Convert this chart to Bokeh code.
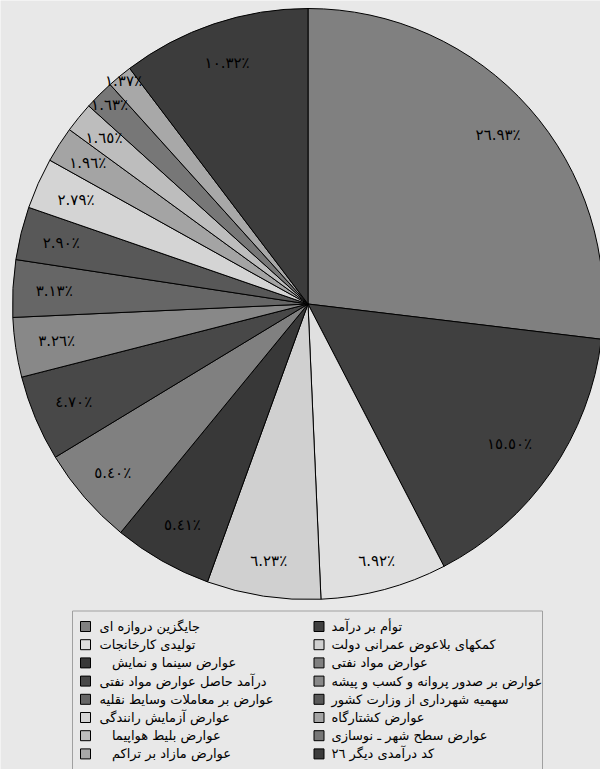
import math
from bokeh.plotting import figure
from bokeh.models import Range1d, ColumnDataSource
from bokeh.core.properties import value
from bokeh.embed import file_html
from bokeh.resources import INLINE

# ---------------- data ----------------
categories = [
    "جایگزین دروازه ای",
    "توأم بر درآمد",
    "تولیدی کارخانجات",
    "کمکهای بلاعوض عمرانی دولت",
    "عوارض سینما و نمایش",
    "عوارض مواد نفتی",
    "درآمد حاصل عوارض مواد نفتی",
    "عوارض بر صدور پروانه و کسب و پیشه",
    "عوارض بر معاملات وسایط نقلیه",
    "سهمیه شهرداری از وزارت کشور",
    "عوارض آزمایش رانندگی",
    "عوارض کشتارگاه",
    "عوارض بلیط هواپیما",
    "عوارض سطح شهر ـ نوسازی",
    "عوارض مازاد بر تراکم",
    "کد درآمدی دیگر ٢٦",
]
shares = [26.93, 15.50, 6.92, 6.23, 5.41, 5.40, 4.70, 3.26,
          3.13, 2.90, 2.79, 1.96, 1.65, 1.63, 1.37, 10.32]
colors = ["#808080", "#404040", "#e0e0e0", "#d0d0d0", "#383838", "#808080",
          "#484848", "#888888", "#666666", "#585858", "#d4d4d4", "#a4a4a4",
          "#bdbdbd", "#777777", "#a8a8a8", "#3c3c3c"]

# ---------------- layout / style ----------------
W, H = 600, 769
BG = "#e8e8e8"
cx, cy, R = 307.5, -303.5, 295.5
FONT = "DejaVu Sans"
label_r = {1: 0.83, 2: 0.90, 3: 0.88, 5: 0.875, 11: 0.885, 12: 0.89,
           13: 0.95, 14: 0.98}

AR_DIGITS = str.maketrans("0123456789", "٠١٢٣٤٥٦٧٨٩")


def fmt(v):
    return f"{v:.2f}".translate(AR_DIGITS) + "٪"


total = sum(shares)
starts, ends, lx, ly = [], [], [], []
cum = 0.0
for i, v in enumerate(shares):
    a0 = math.pi / 2 - 2 * math.pi * cum / total
    cum += v
    a1 = math.pi / 2 - 2 * math.pi * cum / total
    starts.append(a0)
    ends.append(a1)
    am = (a0 + a1) / 2
    f = label_r.get(i, 0.86)
    lx.append(cx + f * R * math.cos(am))
    ly.append(cy + f * R * math.sin(am))

src = ColumnDataSource(dict(start=starts, end=ends, color=colors, name=categories,
                            lx=lx, ly=ly, lab=[fmt(v) for v in shares]))

p = figure(width=W, height=H, x_range=Range1d(0, W), y_range=Range1d(-H, 0),
           output_backend="svg", toolbar_location=None, min_border=0,
           x_axis_location=None, y_axis_location=None)
p.grid.visible = False
p.outline_line_color = None
p.background_fill_color = BG
p.border_fill_color = BG

p.wedge(x=cx, y=cy, radius=R, start_angle="start", end_angle="end",
        direction="clock", fill_color="color", line_color="black",
        line_width=1, source=src)

p.text(x="lx", y="ly", text="lab", source=src, text_align="center",
       text_baseline="middle", text_font=value(FONT), text_font_size="15px",
       text_color="black")

# ---------------- legend ----------------
box_l, box_r, box_t = 72, 542, -610.5
p.quad(left=box_l, right=box_r, top=box_t, bottom=-800, fill_color=None,
       line_color="#a0a0a0", line_width=1)

col_sq = [85, 318.5]
col_tx = [99, 331]
row0, dy = 626, 18.2
pad = {4: "\u00a0\u00a0\u00a0", 12: "\u00a0\u00a0\u00a0", 14: "\u00a0\u00a0\u00a0"}
sx, sy, tx, ty, tt = [], [], [], [], []
for i, name in enumerate(categories):
    c, r = i % 2, i // 2
    sx.append(col_sq[c])
    sy.append(-(row0 + dy * r))
    tx.append(col_tx[c])
    ty.append(-(row0 + dy * r))
    tt.append(pad.get(i, "") + name)

leg = ColumnDataSource(dict(sx=sx, sy=sy, tx=tx, ty=ty, tt=tt, color=colors))
p.rect(x="sx", y="sy", width=10, height=10, fill_color="color",
       line_color="black", line_width=1, source=leg)
p.text(x="tx", y="ty", text="tt", source=leg, text_align="left",
       text_baseline="middle", text_font=value(FONT), text_font_size="13px",
       text_color="black")

open("out.html", "w").write(file_html(p, INLINE))
